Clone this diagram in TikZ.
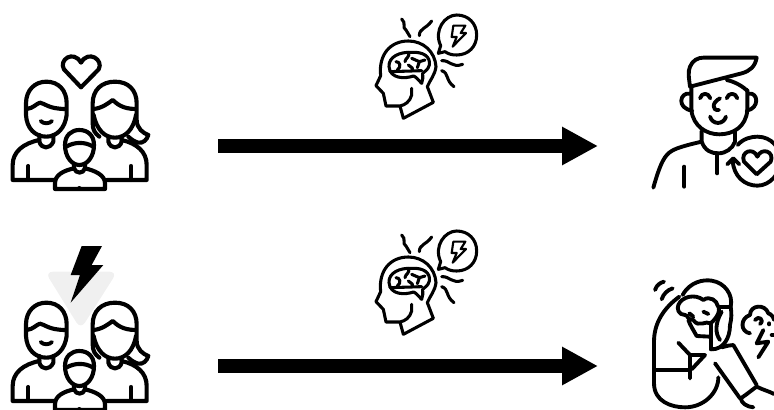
\documentclass[tikz,border=0pt]{standalone}
\usetikzlibrary{arrows.meta}
\tikzset{
 ic/.style={line width=3.1pt,line cap=round,line join=round,black},
 mid ic/.style={line width=2.9pt,line cap=round,line join=round,black},
 thin ic/.style={line width=2.3pt,line cap=round,line join=round,black},
 bigarrow/.style={line width=10pt,-{Triangle[length=27pt,width=27pt]},black,shorten >=0pt},
}
\newenvironment{zs}[2]{\begin{scope}[xshift=#1*.75pt,yshift=-#2*.75pt,x=.25pt,y=-.25pt]}{\end{scope}}
\newcommand{\familyicon}{%
 % dad
 \draw[ic,fill=white] (118,300) .. controls (70,310) and (38,335) .. (38,375) -- (38,420) -- (165,420);
 \draw[ic] (85,378) -- (85,420);
 \draw[ic,fill=white] (78,190) .. controls (78,150) and (105,125) .. (139,125) .. controls (175,125) and (200,150) .. (200,190) -- (200,225) .. controls (195,265) and (170,290) .. (139,290) .. controls (105,290) and (80,265) .. (78,225) -- cycle;
 \draw[ic] (80,207) .. controls (100,205) and (110,190) .. (120,188) .. controls (135,190) and (145,207) .. (198,207);
 \draw[mid ic] (122,243) .. controls (130,252) and (148,252) .. (156,243);
 \draw[ic] (118,285) -- (118,305) .. controls (125,328) and (150,328) .. (160,305) -- (160,285);
 % mom
 \draw[ic,fill=white] (365,300) .. controls (410,310) and (440,335) .. (440,375) -- (440,420) -- (320,420);
 \draw[ic] (393,378) -- (393,420);
 \draw[ic,fill=white] (298,290) .. controls (285,280) and (278,270) .. (278,250) -- (278,190) .. controls (278,150) and (305,125) .. (345,125) .. controls (385,125) and (410,150) .. (410,190) -- (410,240) .. controls (410,265) and (430,280) .. (445,285) .. controls (440,300) and (430,310) .. (415,308) .. controls (405,305) and (395,300) .. (385,290);
 \draw[ic] (280,207) .. controls (305,205) and (325,190) .. (338,180) .. controls (350,190) and (365,207) .. (408,207);
 \draw[ic] (281,225) .. controls (290,270) and (315,293) .. (345,293) .. controls (375,293) and (400,270) .. (408,225);
 \draw[ic] (325,290) -- (325,305) .. controls (332,328) and (358,328) .. (365,305) -- (365,290);
 % child
 \draw[ic,fill=white] (222,385) .. controls (190,392) and (165,405) .. (165,430) -- (165,447) -- (315,447) -- (315,430) .. controls (315,405) and (285,392) .. (255,385);
 \draw[ic,fill=white] (195,315) .. controls (195,285) and (215,270) .. (238,270) .. controls (262,270) and (282,285) .. (282,315) .. controls (282,350) and (262,375) .. (238,375) .. controls (215,375) and (195,350) .. (195,315) -- cycle;
 \draw[ic] (198,320) .. controls (225,305) and (255,305) .. (280,320);
 \draw[ic] (222,372) -- (222,385) .. controls (228,402) and (250,402) .. (255,385) -- (255,372);
 \fill (238,445) circle (7);
}
\newcommand{\brainicon}{%
 \draw[thin ic] (215,250) -- (215,270) .. controls (210,290) and (195,300) .. (180,303) -- (138,303) -- (130,265) -- (108,242) -- (122,212) .. controls (115,150) and (150,108) .. (205,108) .. controls (250,108) and (285,140) .. (288,185) .. controls (285,210) and (270,225) .. (262,245) -- (280,292) -- (190,340) -- (180,303);
 \draw[thin ic] (147,185) .. controls (145,155) and (180,140) .. (215,142) .. controls (250,140) and (272,155) .. (268,180) .. controls (265,195) and (252,200) .. (248,205) .. controls (250,215) and (248,225) .. (245,235) .. controls (235,225) and (228,215) .. (220,213) .. controls (195,222) and (150,222) .. (147,185) -- cycle;
 \draw[thin ic] (205,142) .. controls (212,155) and (195,160) .. (195,170) (215,160) -- (238,170) (238,170) -- (232,188) (168,170) .. controls (180,170) and (185,185) .. (172,195) (150,200) -- (245,197) (255,165) -- (238,170) (205,180) -- (218,190);
 \draw[thin ic] (185,42) .. controls (200,55) and (185,68) .. (198,75) -- (210,95);
 \draw[thin ic] (238,92) .. controls (238,70) and (258,72) .. (275,48);
 \draw[thin ic] (305,167) .. controls (330,165) and (335,190) .. (368,178);
 \draw[thin ic] (305,197) .. controls (328,205) and (315,225) .. (342,245);
 \draw[thin ic] (302,122) .. controls (280,75) and (315,30) .. (350,30) .. controls (385,30) and (410,55) .. (410,90) .. controls (410,125) and (385,150) .. (350,150) .. controls (335,150) and (325,147) .. (315,140) -- (295,145) -- cycle;
 \draw[line width=1.6pt,line join=round] (340,62) -- (376,62) -- (362,84) -- (378,84) -- (338,125) -- (350,96) -- (335,96) -- cycle;
}
\begin{document}
\begin{tikzpicture}[x=.75pt,y=-.75pt]
\useasboundingbox (0,0) rectangle (774,410);
\clip (0,0) rectangle (774,410);
\coordinate (a1s) at (218,146);
\coordinate (a1e) at (598,146);
\coordinate (a2s) at (218,366);
\coordinate (a2e) at (598,366);
% top family
\begin{zs}{0}{40}
 \draw[ic] (243,142) -- (192,88) .. controls (175,60) and (220,28) .. (243,68) .. controls (265,28) and (312,60) .. (296,88) -- cycle;
 \familyicon
\end{zs}
% bottom family
\begin{zs}{0}{240}
 \fill[black!6,rounded corners=6pt] (135,95) -- (352,95) -- (242,268) -- cycle;
 \fill[black] (245,18) -- (306,18) -- (275,75) -- (310,75) -- (212,188) -- (240,105) -- (212,105) -- cycle;
\end{zs}
\begin{zs}{0}{261}
 \familyicon
\end{zs}
% brains
\begin{zs}{340}{5}\brainicon\end{zs}
\begin{zs}{340}{221}\brainicon\end{zs}
% arrows
\draw[bigarrow] (a1s) -- (a1e);
\draw[bigarrow] (a2s) -- (a2e);
% man
\begin{zs}{640}{45}
 \draw[mid ic] (150,125) .. controls (147,100) and (143,80) .. (150,65) .. controls (158,45) and (175,38) .. (190,38) -- (350,38) .. controls (345,65) and (330,78) .. (305,85) -- cycle;
 \draw[mid ic] (260,105) .. controls (285,110) and (310,125) .. (322,138);
 \draw[mid ic] (154,125) -- (154,195) .. controls (160,245) and (200,268) .. (238,268) .. controls (280,268) and (318,245) .. (322,195) -- (322,135);
 \draw[mid ic] (150,146) .. controls (120,140) and (108,190) .. (157,197);
 \draw[mid ic] (325,146) .. controls (355,140) and (360,190) .. (320,197);
 \draw[mid ic] (180,160) .. controls (185,142) and (205,142) .. (211,160);
 \draw[mid ic] (260,160) .. controls (265,142) and (287,142) .. (292,160);
 \draw[mid ic] (240,160) .. controls (215,172) and (215,198) .. (237,195);
 \draw[mid ic] (210,215) .. controls (218,240) and (250,240) .. (258,215);
 \draw[mid ic] (185,258) -- (185,290) .. controls (195,318) and (215,325) .. (235,325) .. controls (258,325) and (278,310) .. (285,290) -- (285,258);
 \draw[mid ic] (185,290) .. controls (150,298) and (110,308) .. (95,318) .. controls (75,330) and (62,350) .. (40,428);
 \draw[mid ic] (133,365) -- (133,425);
 \draw[mid ic] (232,325) -- (232,385);
 \draw[mid ic] (293,300) .. controls (310,280) and (335,275) .. (352,275) .. controls (395,275) and (422,310) .. (422,345) .. controls (422,385) and (390,422) .. (352,422) .. controls (315,422) and (280,395) .. (278,345);
 \draw[mid ic] (262,358) -- (280,340) -- (298,358);
 \draw[mid ic] (350,388) -- (312,350) .. controls (300,320) and (340,305) .. (352,335) .. controls (365,305) and (405,320) .. (392,350) -- cycle;
\end{zs}
% woman
\begin{zs}{640}{270}
 \draw[mid ic] (45,60) .. controls (50,45) and (60,38) .. (72,35);
 \draw[mid ic] (65,88) .. controls (70,72) and (82,60) .. (98,55);
 \draw[mid ic] (118,80) .. controls (70,115) and (42,160) .. (42,215) -- (42,340) .. controls (42,395) and (95,412) .. (135,412) .. controls (190,412) and (235,370) .. (235,322);
 \draw[mid ic] (128,75) .. controls (150,35) and (190,28) .. (215,32) .. controls (255,38) and (280,75) .. (272,110) .. controls (275,130) and (275,145) .. (270,165) .. controls (270,205) and (250,238) .. (215,238);
 \draw[mid ic] (240,110) -- (272,110);
 \draw[mid ic] (115,105) .. controls (125,80) and (165,70) .. (190,90) .. controls (210,75) and (232,95) .. (232,105) .. controls (250,125) and (215,160) .. (210,160) .. controls (200,150) and (175,175) .. (160,150) .. controls (140,150) and (145,135) .. (135,135) .. controls (115,135) and (110,115) .. (115,105);
 \draw[mid ic] (145,150) .. controls (150,165) and (160,180) .. (170,198) -- (210,200);
 \draw[mid ic] (148,130) -- (160,140) (190,125) -- (205,132);
 \draw[mid ic] (245,125) .. controls (225,160) and (225,190) .. (240,210);
 \draw[mid ic] (212,160) -- (212,238);
 \draw[mid ic] (115,218) -- (150,255) -- (150,325);
 \draw[mid ic] (45,300) -- (150,300);
 \draw[mid ic] (150,255) -- (195,255) -- (155,298);
 \draw[mid ic] (245,232) .. controls (260,228) and (270,225) .. (280,225) -- (350,345);
 \draw[mid ic] (225,280) -- (300,385);
 \draw[mid ic] (302,385) .. controls (325,370) and (335,360) .. (350,350) .. controls (370,360) and (390,365) .. (402,372);
 \draw[mid ic] (302,385) .. controls (305,400) and (320,410) .. (340,412);
 \draw[mid ic] (330,190) .. controls (300,185) and (300,145) .. (330,135) .. controls (330,105) and (375,100) .. (385,130) .. controls (395,132) and (402,145) .. (402,150);
 \draw[mid ic] (345,150) .. controls (355,135) and (375,150) .. (360,162);
 \draw[mid ic] (388,160) -- (388,163);
 \draw[mid ic] (370,180) -- (350,220) -- (385,215) -- (355,262);
 \draw[mid ic] (395,195) -- (402,195);
\end{zs}
\end{tikzpicture}
\end{document}
